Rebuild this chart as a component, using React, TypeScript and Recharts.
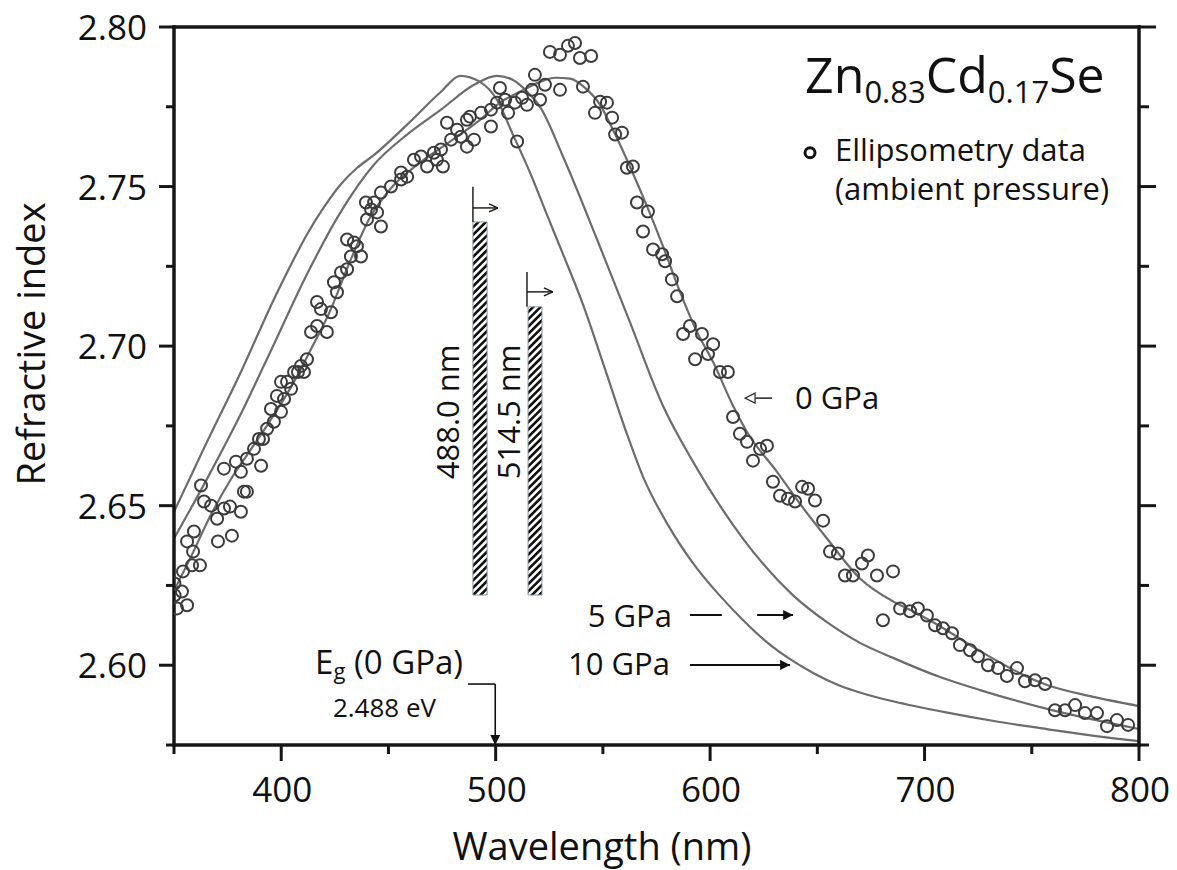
import React from "react";
import {
  ComposedChart,
  Line,
  Scatter,
  XAxis,
  YAxis,
  ReferenceArea,
  ReferenceLine,
  ReferenceDot,
} from "recharts";

const FONT = '"Open Sans", "DejaVu Sans", sans-serif';
const AXIS = "#161616";
const INK = "#111";
const CURVE = "#6c6c6c";

// ellipsometry data at ambient pressure: [wavelength nm, refractive index]
const ellipsometry: [number, number][] = [
  [350.2, 2.6256], [350.3, 2.6219], [351.4, 2.6178], [353.7, 2.6231], [354.2, 2.6294],
  [356.1, 2.6188], [356.1, 2.6388], [358.4, 2.6313], [358.9, 2.6356], [359.3, 2.6419],
  [362.1, 2.6313], [362.6, 2.6563], [364.0, 2.6513], [367.3, 2.65], [370.1, 2.6459],
  [370.5, 2.6388], [373.3, 2.6491], [373.3, 2.6616], [376.1, 2.6497], [377.0, 2.6406],
  [378.9, 2.6638], [381.2, 2.6481], [381.2, 2.6606], [382.6, 2.6544], [384.0, 2.6544],
  [384.0, 2.6647], [387.3, 2.6678], [389.6, 2.6709], [390.6, 2.6625], [391.5, 2.6709],
  [393.4, 2.6741], [395.2, 2.6803], [396.6, 2.6763], [398.0, 2.6844], [399.9, 2.6794],
  [399.9, 2.6888], [401.3, 2.6834], [402.7, 2.6888], [404.6, 2.6866], [406.0, 2.6919],
  [407.8, 2.6919], [409.2, 2.6938], [410.6, 2.6919], [412.0, 2.6959], [413.9, 2.7044],
  [416.7, 2.7063], [416.7, 2.7138], [418.5, 2.7116], [421.3, 2.7044], [423.2, 2.7106],
  [424.6, 2.72], [426.0, 2.7169], [427.9, 2.7231], [430.7, 2.7241], [430.7, 2.7334],
  [432.5, 2.7281], [433.9, 2.7325], [435.3, 2.7313], [437.2, 2.7281], [439.5, 2.745],
  [440.0, 2.7397], [441.9, 2.7428], [443.3, 2.745], [444.7, 2.7419], [446.5, 2.7375],
  [446.5, 2.7481], [451.2, 2.75], [455.9, 2.7522], [455.9, 2.7544], [458.7, 2.7531],
  [461.9, 2.7584], [465.2, 2.7594], [468.0, 2.7563], [471.2, 2.7606], [472.6, 2.7584],
  [474.5, 2.7616], [475.4, 2.7563], [477.3, 2.77], [479.2, 2.7647], [482.0, 2.7678],
  [483.8, 2.7656], [486.6, 2.7625], [486.6, 2.7709], [488.0, 2.7719], [489.9, 2.7647],
  [493.2, 2.7731], [497.8, 2.7741], [497.8, 2.7688], [500.6, 2.7763], [502.0, 2.7809],
  [504.4, 2.7772], [505.8, 2.7731], [509.0, 2.7763], [510.0, 2.7641], [512.3, 2.7778],
  [514.6, 2.7756], [516.9, 2.7803], [518.3, 2.785], [520.7, 2.7772], [523.0, 2.7819],
  [525.3, 2.7922], [530.0, 2.7803], [530.0, 2.7913], [533.7, 2.7941], [537.0, 2.795],
  [539.3, 2.7903], [540.7, 2.7813], [544.5, 2.7909], [546.3, 2.7731], [548.7, 2.7766],
  [551.9, 2.7763], [554.3, 2.7716], [555.7, 2.7663], [558.9, 2.7669], [561.2, 2.7559],
  [564.0, 2.7563], [565.9, 2.745], [568.7, 2.7359], [571.0, 2.7422], [573.4, 2.7303],
  [577.6, 2.7288], [579.0, 2.7266], [582.2, 2.7209], [584.6, 2.7156], [587.4, 2.7038],
  [590.6, 2.7063], [593.0, 2.6959], [596.2, 2.7038], [599.0, 2.6975], [601.4, 2.7006],
  [604.6, 2.6919], [608.3, 2.6919], [610.7, 2.6778], [613.9, 2.6725], [617.2, 2.67],
  [620.0, 2.6641], [623.3, 2.6678], [626.5, 2.6688], [629.3, 2.6575], [632.6, 2.6531],
  [636.3, 2.6522], [639.6, 2.6513], [642.9, 2.6559], [645.7, 2.6553], [648.9, 2.6516],
  [652.7, 2.6453], [655.9, 2.6356], [659.6, 2.635], [662.9, 2.6281], [666.6, 2.6281],
  [670.8, 2.6319], [673.6, 2.6344], [677.8, 2.6281], [680.6, 2.6141], [685.3, 2.6294],
  [688.6, 2.6178], [693.2, 2.6169], [696.9, 2.6178], [701.1, 2.6156], [704.9, 2.6125],
  [708.6, 2.6116], [712.8, 2.61], [716.5, 2.6063], [721.2, 2.6047], [724.9, 2.6028],
  [729.6, 2.6], [734.3, 2.5991], [738.4, 2.5966], [743.1, 2.5991], [746.8, 2.595],
  [751.5, 2.5953], [756.2, 2.5941], [760.8, 2.5859], [765.5, 2.5859], [770.2, 2.5875],
  [774.8, 2.585], [780.4, 2.585], [785.1, 2.5809], [789.7, 2.5828], [794.9, 2.5813],
];

// model curves
const curve0GPa: [number, number][] = [
  [350, 2.6234], [357.5, 2.6334], [366.8, 2.6466], [376.1, 2.6578], [385.4, 2.6672],
  [394.8, 2.6766], [404.1, 2.6866], [413.4, 2.6984], [422.7, 2.7109], [432.1, 2.7266],
  [441.4, 2.7403], [450.7, 2.7491], [464.7, 2.7575], [478.7, 2.7641], [492.7, 2.7709],
  [502.0, 2.7763], [511.3, 2.7797], [520.7, 2.7828], [527.7, 2.7841], [534.7, 2.7838],
  [541.7, 2.7809], [548.7, 2.7756], [554.7, 2.7678], [562.6, 2.7563], [570.6, 2.7438],
  [578.0, 2.7313], [586.0, 2.7169], [593.9, 2.7044], [601.4, 2.695], [610.7, 2.6813],
  [617.2, 2.6731], [631.2, 2.6606], [641.9, 2.6506], [654.5, 2.6397], [669.9, 2.6272],
  [685.3, 2.62], [694.6, 2.6169], [707.2, 2.6122], [725.9, 2.6044], [757.1, 2.5938],
  [777.2, 2.5903], [800, 2.5872],
];

const curve5GPa: [number, number][] = [
  [350, 2.6397], [365.4, 2.6584], [381.2, 2.6788], [396.6, 2.7006], [412.0, 2.7225],
  [427.9, 2.7422], [443.3, 2.7569], [458.7, 2.7663], [474.5, 2.7741], [489.9, 2.7819],
  [500.6, 2.7847], [508.1, 2.7834], [516.0, 2.7788], [520.7, 2.775], [531.4, 2.7594],
  [547.3, 2.7334], [562.6, 2.7075], [578.0, 2.6813], [592.0, 2.6638], [615.3, 2.6397],
  [638.7, 2.6219], [654.5, 2.6135], [669.9, 2.607], [685.3, 2.6023], [707.2, 2.5963],
  [725.9, 2.5922], [757.1, 2.5863], [800, 2.58],
];

const curve10GPa: [number, number][] = [
  [350, 2.6481], [365.4, 2.67], [381.2, 2.6919], [396.6, 2.7147], [404.6, 2.7256],
  [412.0, 2.735], [420.0, 2.7436], [427.9, 2.7508], [435.3, 2.7558], [443.3, 2.7599],
  [458.7, 2.7694], [474.5, 2.7797], [483.4, 2.7847], [492.7, 2.7828], [500.6, 2.7772],
  [508.1, 2.7662], [516.0, 2.7544], [523.9, 2.7412], [531.4, 2.7288], [540.7, 2.7131],
  [551.0, 2.6928], [561.2, 2.6725], [568.7, 2.6591], [580.4, 2.6439], [592.0, 2.632],
  [604.0, 2.6222], [615.3, 2.6142], [626.0, 2.6075], [637.3, 2.6019], [648.5, 2.5974],
  [660.0, 2.5937], [672.5, 2.5909], [685.3, 2.5887], [710.0, 2.5852], [735.0, 2.5822],
  [757.0, 2.58], [780.0, 2.5778], [800, 2.5762],
];

const xMajor = [400, 500, 600, 700, 800];
const xMinor = [350, 450, 550, 650, 750];
const yMajor = [2.6, 2.65, 2.7, 2.75, 2.8];
const yMinor = [2.575, 2.625, 2.675, 2.725, 2.775];

const xTicks = [...xMinor, ...xMajor].sort((a, b) => a - b);
const yTicks = [...yMinor, ...yMajor].sort((a, b) => a - b);

const toXY = (pts: [number, number][]) => pts.map(([x, y]) => ({ x, y }));

const isMajor = (v: number, list: number[]) => list.some((m) => Math.abs(m - v) < 1e-6);

function BottomTick(props: any) {
  const { x, y, payload } = props;
  const major = isMajor(payload.value, xMajor);
  return (
    <g>
      <line x1={x} x2={x} y1={y} y2={y + (major ? 16 : 9)} stroke={AXIS} strokeWidth={3} />
      {major && (
        <text x={x + 1} y={y + 57} textAnchor="middle" fontSize={35} fill={INK} fontFamily={FONT}>
          {payload.value}
        </text>
      )}
    </g>
  );
}

function TopTick(props: any) {
  const { x, y, payload } = props;
  const major = isMajor(payload.value, xMajor);
  return <line x1={x} x2={x} y1={y} y2={y - (major ? 14 : 7)} stroke={AXIS} strokeWidth={3} />;
}

function LeftTick(props: any) {
  const { x, y, payload } = props;
  const major = isMajor(payload.value, yMajor);
  return (
    <g>
      <line x1={x} x2={x - (major ? 15 : 8)} y1={y} y2={y} stroke={AXIS} strokeWidth={3} />
      {major && (
        <text x={x - 27} y={y + 13} textAnchor="end" fontSize={35} fill={INK} fontFamily={FONT}>
          {Number(payload.value).toFixed(2)}
        </text>
      )}
    </g>
  );
}

function RightTick(props: any) {
  const { x, y, payload } = props;
  const major = isMajor(payload.value, yMajor);
  return <line x1={x} x2={x + (major ? 17 : 10)} y1={y} y2={y} stroke={AXIS} strokeWidth={3} />;
}

const Ring = (p: any) => (
  <circle cx={p.cx} cy={p.cy} r={6} fill="none" stroke="#3c3c3c" strokeWidth={2} />
);

const axisLine = { stroke: AXIS, strokeWidth: 3.5, strokeLinecap: "square" as const };

// place a piece of text at a data position
function note(key: string, x: number, y: number, render: (cx: number, cy: number) => React.ReactNode) {
  return (
    <ReferenceDot
      key={key}
      x={x}
      y={y}
      r={0}
      shape={(p: any) => <g>{render(p.cx, p.cy)}</g>}
    />
  );
}

function arrow(key: string, x1: number, y1: number, x2: number, y2: number, head?: string, width = 2) {
  return (
    <ReferenceLine
      key={key}
      segment={[{ x: x1, y: y1 }, { x: x2, y: y2 }]}
      stroke={INK}
      strokeWidth={width}
      shape={(p: any) => (
        <line
          x1={p.x1}
          y1={p.y1}
          x2={p.x2}
          y2={p.y2}
          stroke={INK}
          strokeWidth={width}
          markerEnd={head ? `url(#${head})` : undefined}
        />
      )}
    />
  );
}

const XTitle = () => (
  <text x={602} y={860} textAnchor="middle" fontSize={38} fill={INK} fontFamily={FONT}>
    Wavelength (nm)
  </text>
);

const YTitle = () => (
  <text
    x={45}
    y={344}
    transform="rotate(-90, 45, 344)"
    textAnchor="middle"
    fontSize={38}
    fill={INK}
    fontFamily={FONT}
  >
    Refractive index
  </text>
);

export default function App() {
  return (
    <div style={{ position: "absolute", left: 0, top: 0, width: 1177, height: 870, background: "#fff" }}>
      <svg width={0} height={0} style={{ position: "absolute" }}>
        <defs>
          <pattern id="hatch" width="5.2" height="5.2" patternUnits="userSpaceOnUse" patternTransform="rotate(45)">
            <rect width="5.2" height="5.2" fill="#fff" />
            <rect width="2.6" height="5.2" fill="#111" />
          </pattern>
          <marker id="headFilled" viewBox="0 0 10 10" refX="10" refY="5" markerWidth="13" markerHeight="10"
            markerUnits="userSpaceOnUse" orient="auto">
            <path d="M0,0 L10,5 L0,10 z" fill={INK} />
          </marker>
          <marker id="headOpen" viewBox="0 0 12 12" refX="11" refY="6" markerWidth="12" markerHeight="12"
            markerUnits="userSpaceOnUse" orient="auto">
            <path d="M1,1 L11,6 L1,11 z" fill="#fff" stroke="#333" strokeWidth="1.3" />
          </marker>
          <marker id="headLine" viewBox="0 0 10 10" refX="10" refY="5" markerWidth="10" markerHeight="10"
            markerUnits="userSpaceOnUse" orient="auto">
            <path d="M1,1 L10,5 L1,9" fill="none" stroke={INK} strokeWidth="1.3" />
          </marker>
        </defs>
      </svg>
      <ComposedChart width={1177} height={870} margin={{ top: 0, right: 0, bottom: 0, left: 0 }}>
        <XAxis
          xAxisId={0}
          dataKey="x"
          type="number"
          domain={[350, 800]}
          allowDataOverflow
          ticks={xTicks}
          interval={0}
          height={125}
          tickSize={0}
          tickMargin={0}
          tickLine={false}
          tick={BottomTick}
          axisLine={axisLine}
          label={<XTitle />}
        />
        <XAxis
          xAxisId="top"
          orientation="top"
          type="number"
          domain={[350, 800]}
          allowDataOverflow
          ticks={xTicks}
          interval={0}
          height={27}
          tickSize={0}
          tickMargin={0}
          tickLine={false}
          tick={TopTick}
          axisLine={axisLine}
        />
        <YAxis
          yAxisId={0}
          dataKey="y"
          type="number"
          domain={[2.575, 2.8]}
          allowDataOverflow
          ticks={yTicks}
          interval={0}
          width={174}
          tickSize={0}
          tickMargin={0}
          tickLine={false}
          tick={LeftTick}
          axisLine={axisLine}
          label={<YTitle />}
        />
        <YAxis
          yAxisId="right"
          orientation="right"
          type="number"
          domain={[2.575, 2.8]}
          allowDataOverflow
          ticks={yTicks}
          interval={0}
          width={38}
          tickSize={0}
          tickMargin={0}
          tickLine={false}
          tick={RightTick}
          axisLine={axisLine}
        />

        <ReferenceArea x1={489.4} x2={496.0} y1={2.622} y2={2.7389} fill="url(#hatch)" fillOpacity={1}
          stroke="#8797a6" strokeWidth={1} />
        <ReferenceArea x1={515.1} x2={521.6} y1={2.622} y2={2.7123} fill="url(#hatch)" fillOpacity={1}
          stroke="#8797a6" strokeWidth={1} />

        <Line data={toXY(curve10GPa)} dataKey="y" type="monotone" stroke={CURVE} strokeWidth={2.2}
          dot={false} isAnimationActive={false} />
        <Line data={toXY(curve5GPa)} dataKey="y" type="monotone" stroke={CURVE} strokeWidth={2.2}
          dot={false} isAnimationActive={false} />
        <Line data={toXY(curve0GPa)} dataKey="y" type="monotone" stroke={CURVE} strokeWidth={2.2}
          dot={false} isAnimationActive={false} />
        <Scatter data={toXY(ellipsometry)} dataKey="y" shape={Ring} isAnimationActive={false} />

        {arrow("m1v", 489.4, 2.7499, 489.4, 2.7389, undefined, 1.4)}
        {arrow("m1h", 489.4, 2.7433, 501.1, 2.7433, "headLine", 1.4)}
        {arrow("m2v", 514.6, 2.7232, 514.6, 2.7123, undefined, 1.4)}
        {arrow("m2h", 514.6, 2.717, 526.7, 2.717, "headLine", 1.4)}

        {arrow("a0", 628.9, 2.6837, 616.3, 2.6837, "headOpen", 1.4)}
        {arrow("a5dash", 590.6, 2.6157, 605.5, 2.6157, undefined, 2)}
        {arrow("a5", 621.9, 2.6157, 638.7, 2.6157, "headFilled", 2)}
        {arrow("a10", 590.6, 2.6001, 637.3, 2.6001, "headFilled", 2)}
        {arrow("egh", 487.1, 2.5941, 499.8, 2.5941, undefined, 1.6)}
        {arrow("egv", 499.8, 2.5941, 499.8, 2.575, "headFilled", 1.6)}

        {note("title", 644.3, 2.7793, (x, y) => (
          <text x={x} y={y} fontSize={50} fill={INK} fontFamily={FONT}>
            Zn<tspan fontSize={31} dy={10}>0.83</tspan>
            <tspan dy={-10}>Cd</tspan>
            <tspan fontSize={31} dy={10}>0.17</tspan>
            <tspan dy={-10}>Se</tspan>
          </text>
        ))}
        {note("legRing", 646.6, 2.7606, (x, y) => (
          <circle cx={x} cy={y} r={5} fill="none" stroke={INK} strokeWidth={3} />
        ))}
        {note("leg1", 658.2, 2.758, (x, y) => (
          <text x={x} y={y} fontSize={31} fill={INK} fontFamily={FONT}>Ellipsometry data</text>
        ))}
        {note("leg2", 658.2, 2.7458, (x, y) => (
          <text x={x} y={y} fontSize={31} fill={INK} fontFamily={FONT}>(ambient pressure)</text>
        ))}
        {note("g0", 639.6, 2.6803, (x, y) => (
          <text x={x} y={y} fontSize={31} fill={INK} fontFamily={FONT}>0 GPa</text>
        ))}
        {note("g5", 582.2, 2.612, (x, y) => (
          <text x={x} y={y} textAnchor="end" fontSize={31} fill={INK} fontFamily={FONT}>5 GPa</text>
        ))}
        {note("g10", 581.3, 2.5969, (x, y) => (
          <text x={x} y={y} textAnchor="end" fontSize={31} fill={INK} fontFamily={FONT}>10 GPa</text>
        ))}
        {note("eg", 415.8, 2.5972, (x, y) => (
          <text x={x} y={y} fontSize={33} fill={INK} fontFamily={FONT}>
            E<tspan fontSize={22} dy={5}>g</tspan>
            <tspan dy={-5}>{" (0 GPa)"}</tspan>
          </text>
        ))}
        {note("ev", 424.1, 2.5837, (x, y) => (
          <text x={x} y={y} fontSize={26} fill={INK} fontFamily={FONT}>2.488 eV</text>
        ))}
        {note("l488", 483.1, 2.6794, (x, y) => (
          <text x={x} y={y} transform={`rotate(-90, ${x}, ${y})`} textAnchor="middle" fontSize={31}
            fill={INK} fontFamily={FONT}>488.0 nm</text>
        ))}
        {note("l514", 511.3, 2.6794, (x, y) => (
          <text x={x} y={y} transform={`rotate(-90, ${x}, ${y})`} textAnchor="middle" fontSize={31}
            fill={INK} fontFamily={FONT}>514.5 nm</text>
        ))}
      </ComposedChart>
    </div>
  );
}
